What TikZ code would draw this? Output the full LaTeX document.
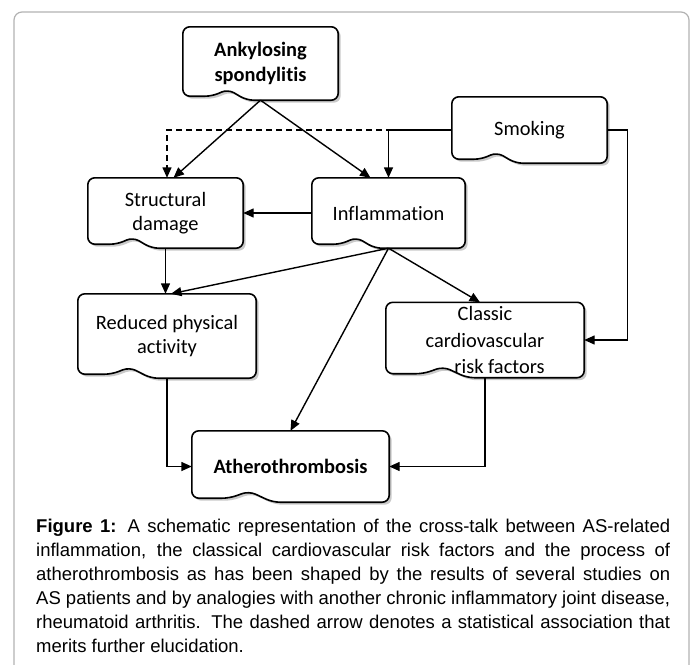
\documentclass[tikz,border=0pt]{standalone}
\usepackage{fontspec}
\setmainfont{Carlito}[Ligatures={NoCommon,NoContextual}]
\newfontfamily\capfont{Liberation Sans}
\usetikzlibrary{arrows.meta,calc,backgrounds}
\tikzset{
 boxtext/.style={inner sep=0pt, align=center, font=\fontsize{20.4}{24.5}\selectfont},
 docshape/.style={draw=black, line width=1.6pt, fill=white, rounded corners=7pt,
   preaction={fill=black!60, opacity=0.35, transform canvas={xshift=2.5pt,yshift=-2.5pt}}},
 conn/.style={line width=1.4pt, -{Triangle[length=10.5pt,width=9pt]}},
 dconn/.style={conn, dash pattern=on 6pt off 4pt},
 figframe/.style={draw=black!30, line width=1.2pt, rounded corners=8pt},
}
\newcommand\docbox[1]{%
 \path[docshape] (#1.west) -- (#1.north west) -- (#1.north east) -- (#1.south east)
 -- ($(#1.south west)!0.41!(#1.south east)$)
 -- ($(#1.south west)!0.29!(#1.south east)+(0pt,11pt)$)
 -- ($(#1.south west)!0.19!(#1.south east)+(0pt,4pt)$)
 -- ($(#1.south west)+(0pt,4pt)$) -- cycle;}
\begin{document}
\begin{tikzpicture}[x=1pt,y=-1pt]
\useasboundingbox (0,0) rectangle (696,664);
% nodes
\node[boxtext, minimum width=155pt, minimum height=73pt] (A) at (260.5,63.5) {\textbf{Ankylosing}\\\textbf{spondylitis}};
\node[boxtext, minimum width=155pt, minimum height=66pt] (S) at (529.5,130) {Smoking};
\node[boxtext, minimum width=155pt, minimum height=70pt] (SD) at (165.5,213) {Structural\\damage};
\node[boxtext, minimum width=153pt, minimum height=70pt] (I) at (388.5,213) {Inflammation};
\node[boxtext, minimum width=178pt, minimum height=84pt] (R) at (167,336) {Reduced physical\\activity};
\node[boxtext, minimum width=198pt, minimum height=75pt, font=\fontsize{20.4}{26.5}\selectfont] (C) at (485,340) {Classic\\cardiovascular\\\hspace*{29pt}risk factors};
\node[boxtext, minimum width=197pt, minimum height=71pt] (AT) at (290.5,466.5) {\textbf{Atherothrombosis}};
% caption
\node[anchor=north west, inner sep=0pt, align=left, font=\capfont\fontsize{18.5}{24}\selectfont] (cap) at (36,518.7) {%
\makebox[634pt][s]{\textbf{Figure 1:} A schematic representation of the cross-talk between AS-related}\\
\makebox[634pt][s]{inflammation, the classical cardiovascular risk factors and the process of}\\
\makebox[634pt][s]{atherothrombosis as has been shaped by the results of several studies on}\\
\makebox[634pt][s]{AS patients and by analogies with another chronic inflammatory joint disease,}\\
\makebox[634pt][s]{rheumatoid arthritis. The dashed arrow denotes a statistical association that}\\
merits further elucidation.};
% background shapes
\begin{scope}[on background layer]
 \clip (0,0) rectangle (696,664);
 \draw[figframe] (14,12) rectangle (689,720);
 \docbox{A}\docbox{S}\docbox{SD}\docbox{I}\docbox{R}\docbox{C}\docbox{AT}
\end{scope}
% connectors
\coordinate (sr) at ($(S.east)+(20pt,0pt)$);
\draw[dconn] (S.west) -| ([xshift=1.5pt]SD.north);
\draw[conn] (S.west) -| (I.north);
\draw[conn] (A.south) -- ([xshift=8pt]SD.north);
\draw[conn] (A.south) -- ([xshift=-18pt]I.north);
\draw[conn] (S.east) -- (sr) |- (C.east);
\draw[conn] (I.west) -- (SD.east);
\draw[conn] (SD.south) -- (SD.south |- R.north);
\draw[conn] (I.south) -- ([xshift=4pt]R.north);
\draw[conn] (I.south) -- (AT.north);
\draw[conn] (I.south) -- ([xshift=-5pt]C.north);
\draw[conn] (R.south) |- (AT.west);
\draw[conn] (C.south) |- (AT.east);
\end{tikzpicture}
\end{document}
